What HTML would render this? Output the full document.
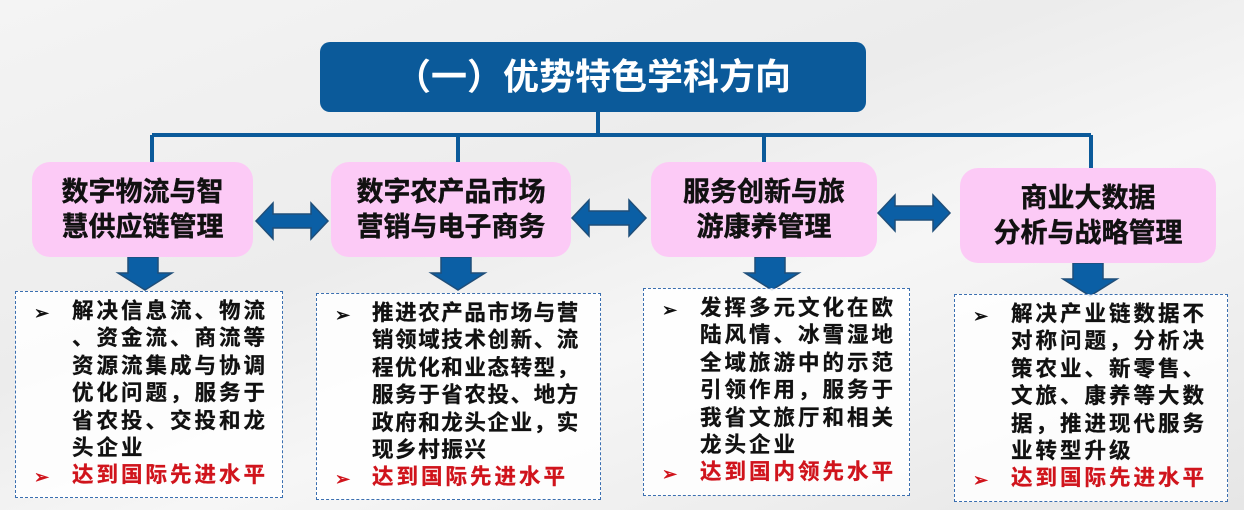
<!DOCTYPE html>
<html><head><meta charset="utf-8"><style>
body{margin:0;width:1244px;height:510px;overflow:hidden;position:relative;
background:linear-gradient(160deg,#f4f4f4 0%,#ececec 40%,#f6f6f6 60%,#e6e6e6 100%);
font-family:"Liberation Sans","Noto Sans CJK SC",sans-serif;}
.title{position:absolute;left:320px;top:42px;width:546px;height:70px;background:#0b5a9a;border-radius:10px;color:#fff;font-weight:bold;font-size:36px;line-height:70px;text-align:center;}
.pk{position:absolute;background:#fccaf6;border-radius:18px;font-weight:bold;font-size:27px;line-height:35px;text-align:center;color:#111;display:flex;align-items:center;justify-content:center;-webkit-text-stroke:0.4px #111;}
.tb{position:absolute;border:1.5px dashed #3b6fb0;background:rgba(255,255,255,0.85);box-sizing:border-box;font-weight:bold;font-size:21.5px;line-height:27.4px;color:#111;}
.tb .b{position:absolute;left:18px;font-size:18px;}
.tb .t{position:absolute;white-space:nowrap;letter-spacing:3px;-webkit-text-stroke:0.3px currentColor;}
.red{color:#d0141c;}
svg{position:absolute;left:0;top:0;}
</style></head><body>
<svg width="1244" height="510">
<g stroke="#0b5a9a" stroke-width="4" fill="none">
<line x1="598" y1="112" x2="598" y2="135"/>
<line x1="152" y1="135" x2="1091" y2="135"/>
<line x1="152" y1="135" x2="152" y2="162"/>
<line x1="458" y1="135" x2="458" y2="162"/>
<line x1="764" y1="135" x2="764" y2="162"/>
<line x1="1091" y1="135" x2="1091" y2="168"/>
</g>
<g fill="#0b5fa5" stroke="#1f4e79" stroke-width="1.5">
<path d="M128,257 h30 v16 h14 l-27,17 l-27,-17 h10z"/>
<path d="M441,257 h30 v16 h14 l-27,17 l-27,-17 h10z"/>
<path d="M755,257 h30 v16 h14 l-27,17 l-27,-17 h10z"/>
<path d="M1073,263 h30 v16 h14 l-27,17 l-27,-17 h10z"/>
<path d="M256,221 l17,-18 v11 h38 v-11 l17,18 l-17,18 v-11 h-38 v11z"/>
<path d="M572,218 l17,-18 v11 h40 v-11 l17,18 l-17,18 v-11 h-40 v11z"/>
<path d="M878,213 l17,-18 v11 h38 v-11 l17,18 l-17,18 v-11 h-38 v11z"/>
</g>
</svg>
<div class="title">（一）优势特色学科方向</div>
<div class="pk" style="left:32px;top:162px;width:221px;height:95px">数字物流与智<br>慧供应链管理</div>
<div class="pk" style="left:331px;top:162px;width:240px;height:95px">数字农产品市场<br>营销与电子商务</div>
<div class="pk" style="left:651px;top:162px;width:226px;height:95px">服务创新与旅<br>游康养管理</div>
<div class="pk" style="left:960px;top:168px;width:256px;height:95px">商业大数据<br>分析与战略管理</div>

<div class="tb" style="left:15px;top:291px;width:268px;height:207px">
<div class="b" style="top:8px">➢</div>
<div class="t" style="left:56px;top:6px">解决信息流、物流<br>、资金流、商流等<br>资源流集成与协调<br>优化问题，服务于<br>省农投、交投和龙<br>头企业</div>
<div class="b red" style="top:172px">➢</div>
<div class="t red" style="left:56px;top:170px">达到国际先进水平</div>
</div>
<div class="tb" style="left:316px;top:293px;width:285px;height:207px">
<div class="b" style="top:8px">➢</div>
<div class="t" style="left:55px;top:6px;letter-spacing:1.6px">推进农产品市场与营<br>销领域技术创新、流<br>程优化和业态转型，<br>服务于省农投、地方<br>政府和龙头企业，实<br>现乡村振兴</div>
<div class="b red" style="top:172px">➢</div>
<div class="t red" style="left:55px;top:170px">达到国际先进水平</div>
</div>
<div class="tb" style="left:643px;top:288px;width:267px;height:208px">
<div class="b" style="top:8px">➢</div>
<div class="t" style="left:56px;top:6px">发挥多元文化在欧<br>陆风情、冰雪湿地<br>全域旅游中的示范<br>引领作用，服务于<br>我省文旅厅和相关<br>龙头企业</div>
<div class="b red" style="top:172px">➢</div>
<div class="t red" style="left:56px;top:170px">达到国内领先水平</div>
</div>
<div class="tb" style="left:954px;top:294px;width:274px;height:208px">
<div class="b" style="top:8px">➢</div>
<div class="t" style="left:56px;top:6px">解决产业链数据不<br>对称问题，分析决<br>策农业、新零售、<br>文旅、康养等大数<br>据，推进现代服务<br>业转型升级</div>
<div class="b red" style="top:172px">➢</div>
<div class="t red" style="left:56px;top:170px">达到国际先进水平</div>
</div>
</body></html>
